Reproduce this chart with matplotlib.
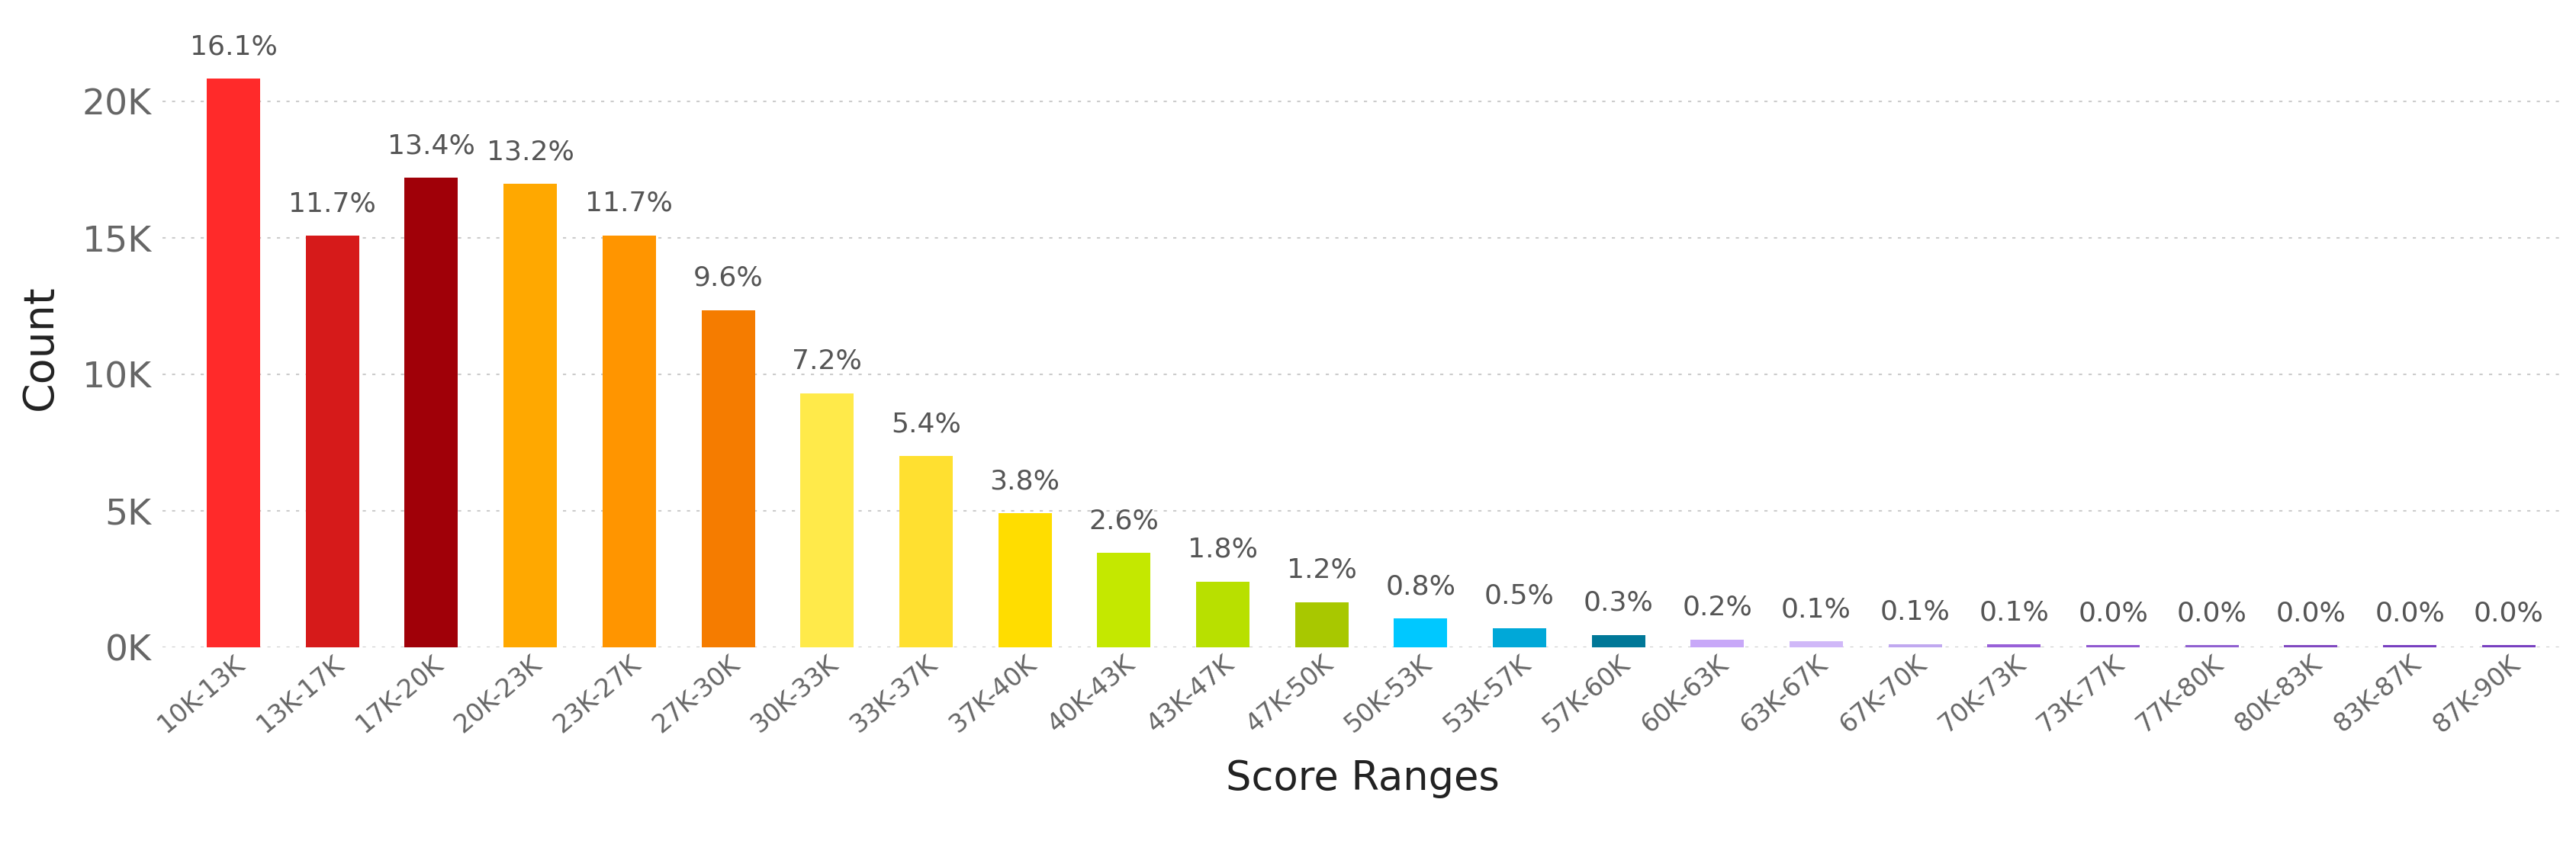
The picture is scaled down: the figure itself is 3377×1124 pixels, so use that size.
import matplotlib
matplotlib.use("Agg")
import matplotlib.pyplot as plt
from matplotlib.ticker import FuncFormatter

plt.rcParams['font.family'] = ['Liberation Sans Narrow', 'DejaVu Sans']

categories = ["10K-13K","13K-17K","17K-20K","20K-23K","23K-27K","27K-30K","30K-33K","33K-37K",
              "37K-40K","40K-43K","43K-47K","47K-50K","50K-53K","53K-57K","57K-60K","60K-63K",
              "63K-67K","67K-70K","70K-73K","73K-77K","77K-80K","80K-83K","83K-87K","87K-90K"]
counts = [20840, 15080, 17200, 16980, 15100, 12350, 9300, 7000, 4900, 3450, 2400, 1650,
          1050, 700, 450, 280, 200, 110, 100, 70, 70, 70, 70, 70]
percents = ["16.1%","11.7%","13.4%","13.2%","11.7%","9.6%","7.2%","5.4%","3.8%","2.6%","1.8%","1.2%",
            "0.8%","0.5%","0.3%","0.2%","0.1%","0.1%","0.1%","0.0%","0.0%","0.0%","0.0%","0.0%"]
colors = ["#FF2A2A","#D61A1A","#A00008","#FFA800","#FF9500","#F57C00","#FFEA4A","#FFE030",
          "#FFDD00","#C4E800","#B8E000","#A8C800","#00C8FF","#00A8D8","#007898","#C8A8F8",
          "#D0B8F8","#C0A8F0","#9860D8","#9058D0","#9060D0","#8048C0","#7840C0","#7840C0"]

fig = plt.figure(figsize=(33.77, 11.24), dpi=100)
ax = fig.add_axes([0.063, 0.245, 0.932, 0.70])
x = range(len(categories))
ax.bar(x, counts, width=0.54, color=colors, zorder=3)
for i, (c, p) in enumerate(zip(counts, percents)):
    ax.text(i, c + 700, p, ha='center', va='bottom', fontsize=26, color='#555555', clip_on=False)
ax.set_xlim(-0.72, len(categories) - 0.45)
ax.set_ylim(0, 22000)
ax.set_yticks([0, 5000, 10000, 15000, 20000])
ax.yaxis.set_major_formatter(FuncFormatter(lambda v, _: f"{int(v/1000)}K"))
ax.grid(axis='y', linestyle=(0, (2, 4)), color='#cccccc', linewidth=1.5, zorder=0)
for s in ax.spines.values():
    s.set_visible(False)
ax.tick_params(length=0)
ax.tick_params(axis='y', labelsize=34, labelcolor='#666666', pad=10)
ax.set_xticks(list(x))
ax.set_xticklabels(categories, rotation=40, ha='right', rotation_mode='anchor', fontsize=24, color='#666666')
ax.set_ylabel("Count", fontsize=40, color='#222222', labelpad=20)
ax.set_xlabel("Score Ranges", fontsize=38, color='#222222', labelpad=20)
fig.savefig("out.png", dpi=100, facecolor='white')
